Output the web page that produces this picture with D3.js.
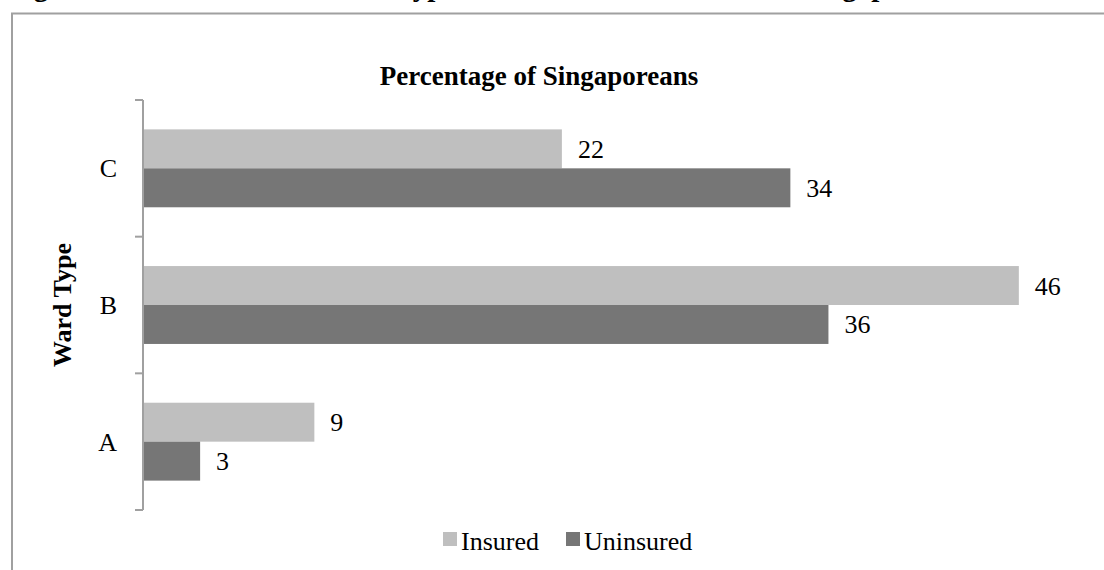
<!DOCTYPE html>
<html>
<head>
<meta charset="utf-8">
<script src="https://cdn.jsdelivr.net/npm/d3@7"></script>
<style>
  body { margin: 0; background: #fff; }
</style>
</head>
<body>
<script>
// data
var wardTypes = ['C', 'B', 'A'];
var seriesNames = ['Insured', 'Uninsured'];
var insured = [22, 46, 9];
var uninsured = [34, 36, 3];
var seriesColors = ['#bfbfbf', '#767676'];

var width = 1104, height = 570;
var serif = "'Liberation Serif', 'Times New Roman', Times, serif";

var svg = d3.select('body')
  .append('svg')
  .attr('width', width)
  .attr('height', height)
  .attr('font-family', serif)
  .style('font-family', serif);

// caption from the page above, cut off at the top
svg.append('text')
  .attr('x', 8)
  .attr('y', -4)
  .attr('font-size', 29)
  .attr('font-weight', 'bold')
  .attr('fill', '#000')
  .text('Figure 3: Distribution of Ward Type for Insured and Uninsured Singaporeans');

// chart frame (only top and left edge show)
svg.append('path')
  .attr('d', 'M12,' + (height + 5) + 'V13.5H' + (width + 5))
  .attr('fill', 'none')
  .attr('stroke', '#a0a0a0')
  .attr('stroke-width', 2);

svg.append('text')
  .attr('x', 539)
  .attr('y', 85)
  .attr('text-anchor', 'middle')
  .attr('font-size', 27)
  .attr('font-weight', 'bold')
  .text('Percentage of Singaporeans');

var x = d3.scaleLinear()
  .domain([0, 50])
  .range([143, 1095]);

var y = d3.scaleBand()
  .domain(wardTypes)
  .range([100, 510])
  .paddingInner(0.43)
  .paddingOuter(0.215);

var y1 = d3.scaleBand()
  .domain(seriesNames)
  .range([0, y.bandwidth()]);

var rows = wardTypes.map(function(w, i) {
  return { ward: w, values: [insured[i], uninsured[i]] };
});

var groups = svg.selectAll('g.ward')
  .data(rows)
  .enter()
  .append('g')
  .attr('class', 'ward')
  .attr('transform', function(d) {
    return 'translate(0,' + y(d.ward) + ')';
  });

groups.selectAll('rect')
  .data(function(d) {
    return d.values.map(function(v, j) {
      return { name: seriesNames[j], value: v, color: seriesColors[j] };
    });
  })
  .enter()
  .append('rect')
  .attr('x', x(0))
  .attr('y', function(d) { return y1(d.name); })
  .attr('width', function(d) { return x(d.value) - x(0); })
  .attr('height', y1.bandwidth())
  .attr('fill', function(d) { return d.color; });

groups.selectAll('text.val')
  .data(function(d) {
    return d.values.map(function(v, j) {
      return { name: seriesNames[j], value: v };
    });
  })
  .enter()
  .append('text')
  .attr('class', 'val')
  .attr('x', function(d) { return x(d.value) + 16; })
  .attr('y', function(d) { return y1(d.name) + y1.bandwidth() / 2 + 9; })
  .attr('font-size', 26)
  .attr('fill', '#000')
  .text(function(d) { return d.value; });

// category axis with ticks between the bands
var axisG = svg.append('g');
axisG.append('line')
  .attr('x1', x(0)).attr('x2', x(0))
  .attr('y1', y.range()[0]).attr('y2', y.range()[1])
  .attr('stroke', '#a0a0a0')
  .attr('stroke-width', 2);

var tickYs = wardTypes.map(function(w) { return y(w) - y.step() * y.paddingInner() / 2; });
tickYs.push(y.range()[1]);
tickYs[0] = y.range()[0];
axisG.selectAll('line.tick')
  .data(tickYs)
  .enter()
  .append('line')
  .attr('class', 'tick')
  .attr('x1', x(0) - 8).attr('x2', x(0))
  .attr('y1', function(d) { return d; })
  .attr('y2', function(d) { return d; })
  .attr('stroke', '#a0a0a0')
  .attr('stroke-width', 2);

axisG.selectAll('text')
  .data(wardTypes)
  .enter()
  .append('text')
  .attr('x', x(0) - 26)
  .attr('y', function(d) { return y(d) + y.bandwidth() / 2 + 9; })
  .attr('text-anchor', 'end')
  .attr('font-size', 26)
  .text(function(d) { return d; });

svg.append('text')
  .attr('transform', 'translate(71,305) rotate(-90)')
  .attr('text-anchor', 'middle')
  .attr('font-size', 26)
  .attr('font-weight', 'bold')
  .text('Ward Type');

// legend
var legendX = [443, 566];
var legend = svg.selectAll('g.legend')
  .data(seriesNames)
  .enter()
  .append('g')
  .attr('class', 'legend')
  .attr('transform', function(d, i) { return 'translate(' + legendX[i] + ',532)'; });

legend.append('rect')
  .attr('width', 14)
  .attr('height', 14)
  .attr('fill', function(d, i) { return seriesColors[i]; });

legend.append('text')
  .attr('x', 18)
  .attr('y', 18)
  .attr('font-size', 26)
  .text(function(d) { return d; });
</script>
</body>
</html>
